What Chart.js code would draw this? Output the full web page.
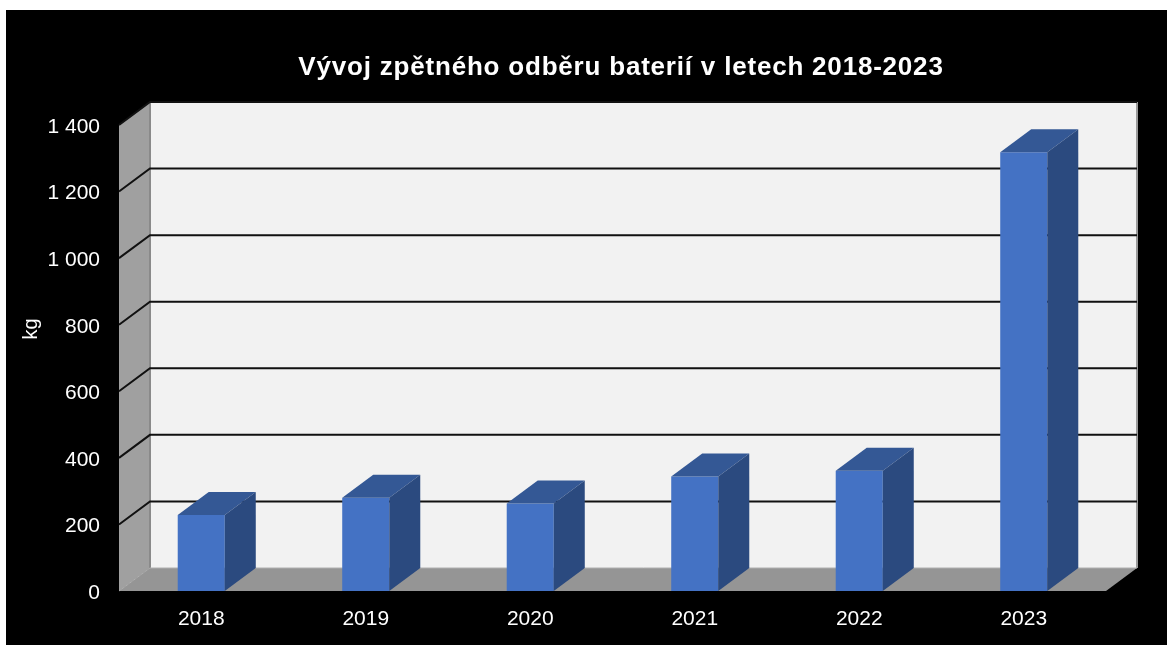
<!DOCTYPE html>
<html>
<head>
<meta charset="utf-8">
<script src="https://cdn.jsdelivr.net/npm/chart.js@4.4.0/dist/chart.umd.min.js"></script>
<style>
  html, body { margin: 0; padding: 0; background: #fff; }
  #wrap { position: absolute; left: 6px; top: 10px; width: 1161px; height: 635px; background: #000; }
</style>
</head>
<body>
<div id="wrap"><canvas id="chart"></canvas></div>
<script>
// data
const years = ['2018', '2019', '2020', '2021', '2022', '2023'];
const kg = [228, 280, 263, 344, 361, 1318];
const yTickLabels = ['0', '200', '400', '600', '800', '1 000', '1 200', '1 400'];
const chartTitle = 'Vývoj zpětného odběru baterií v letech 2018-2023';
const axisTitle = 'kg';

// colours
const COL_FRONT = '#4472c4';
const COL_TOP   = '#345895';
const COL_SIDE  = '#2b4a7f';
const COL_BACK  = '#f2f2f2';
const COL_WALL  = '#a0a0a0';
const COL_FLOOR = '#959595';
const COL_GRID  = '#111111';

// 3d depth offset
const DX = 31, DY = -23;
const FONT = '"Liberation Sans", Arial, sans-serif';

function poly(ctx, pts, fill) {
  ctx.beginPath();
  ctx.moveTo(pts[0][0], pts[0][1]);
  for (let i = 1; i < pts.length; i++) ctx.lineTo(pts[i][0], pts[i][1]);
  ctx.closePath();
  ctx.fillStyle = fill;
  ctx.fill();
}

// walls, floor, gridlines, bar tops/sides
const wallsPlugin = {
  id: 'walls',
  beforeDatasetsDraw(chart) {
    const ctx = chart.ctx, ca = chart.chartArea, ys = chart.scales.y;
    const L = ca.left, R = ca.right;
    const T = ys.getPixelForValue(ys.max), B = ys.getPixelForValue(0);
    ctx.save();
    // back wall
    ctx.fillStyle = COL_BACK;
    ctx.fillRect(L + DX, T + DY, R - L, B - T);
    ctx.strokeStyle = '#9a9a9a';
    ctx.lineWidth = 2;
    ctx.beginPath();
    ctx.moveTo(R + DX, T + DY); ctx.lineTo(R + DX, B + DY);
    ctx.stroke();
    // left wall
    poly(ctx, [[L, T], [L + DX, T + DY], [L + DX, B + DY], [L, B]], COL_WALL);
    ctx.strokeStyle = '#8a8a8a';
    ctx.beginPath();
    ctx.moveTo(L + DX, T + DY); ctx.lineTo(L + DX, B + DY);
    ctx.stroke();
    // gridlines
    ctx.strokeStyle = COL_GRID;
    ctx.lineWidth = 2;
    ys.ticks.forEach(t => {
      if (t.value === 0) return;
      const p = ys.getPixelForValue(t.value);
      ctx.beginPath();
      ctx.moveTo(L, p);
      ctx.lineTo(L + DX, p + DY);
      ctx.lineTo(R + DX, p + DY);
      ctx.stroke();
    });
    // floor
    poly(ctx, [[L, B], [R, B], [R + DX, B + DY], [L + DX, B + DY]], COL_FLOOR);
    ctx.strokeStyle = '#b0b0b0';
    ctx.lineWidth = 1;
    ctx.beginPath();
    ctx.moveTo(L, B); ctx.lineTo(L + DX, B + DY); ctx.lineTo(R + DX, B + DY);
    ctx.stroke();
    ctx.restore();
  },
  afterDatasetsDraw(chart) {
    const ctx = chart.ctx;
    ctx.save();
    chart.getDatasetMeta(0).data.forEach(bar => {
      const p = bar.getProps(['x', 'y', 'base', 'width'], true);
      const x0 = p.x - p.width / 2, x1 = p.x + p.width / 2;
      // top face
      poly(ctx, [[x0, p.y], [x0 + DX, p.y + DY], [x1 + DX, p.y + DY], [x1, p.y]], COL_TOP);
      // side face
      poly(ctx, [[x1, p.y], [x1 + DX, p.y + DY], [x1 + DX, p.base + DY], [x1, p.base]], COL_SIDE);
    });
    ctx.restore();
  },
  afterDraw(chart) {
    const ctx = chart.ctx;
    ctx.save();
    ctx.fillStyle = '#fff';
    ctx.textAlign = 'center';
    ctx.textBaseline = 'alphabetic';
    ctx.font = 'bold 26px ' + FONT;
    ctx.letterSpacing = '0.8px';
    ctx.fillText(chartTitle, 615, 65);
    ctx.letterSpacing = '0px';
    ctx.textBaseline = 'middle';
    ctx.font = '20px ' + FONT;
    ctx.translate(25, 319);
    ctx.rotate(-Math.PI / 2);
    ctx.fillText(axisTitle, 0, 0);
    ctx.restore();
  }
};

new Chart(document.getElementById('chart'), {
  type: 'bar',
  data: {
    labels: years,
    datasets: [{
      data: kg,
      backgroundColor: COL_FRONT,
      borderWidth: 0,
      categoryPercentage: 1,
      barPercentage: 0.286
    }]
  },
  options: {
    responsive: true,
    maintainAspectRatio: false,
    animation: false,
    layout: { padding: { top: 115, right: 61, left: 0, bottom: 0 } },
    plugins: {
      legend: { display: false },
      tooltip: { enabled: false }
    },
    scales: {
      x: {
        grid: { display: false, drawTicks: false },
        border: { display: false },
        ticks: { color: '#fff', padding: 16, font: { family: FONT, size: 21 } },
        afterFit: s => { s.height = 54; }
      },
      y: {
        min: 0,
        max: 1400,
        grid: { display: false, drawTicks: false },
        border: { display: false },
        ticks: {
          stepSize: 200,
          color: '#fff',
          padding: 19,
          labelOffset: 2,
          font: { family: FONT, size: 21 },
          callback: (v, i) => yTickLabels[i]
        },
        afterFit: s => { s.width = 113; }
      }
    }
  },
  plugins: [wallsPlugin]
});
</script>
</body>
</html>
